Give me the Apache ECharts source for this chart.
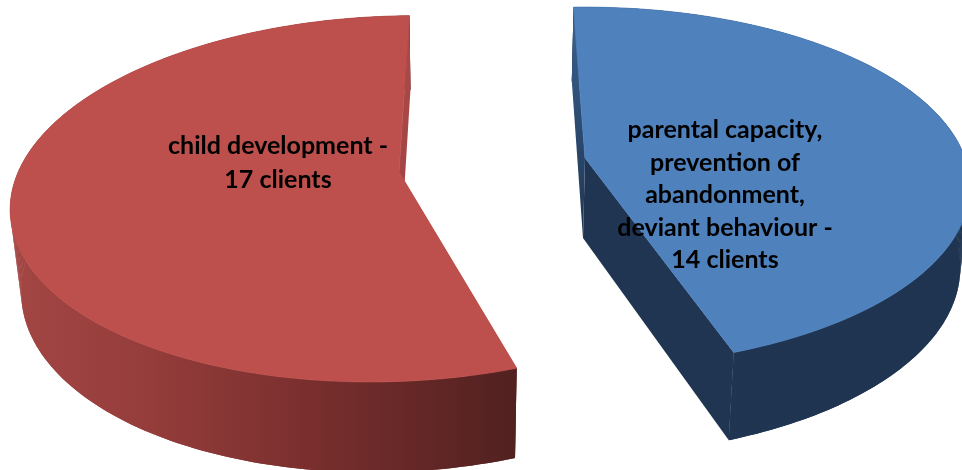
<!DOCTYPE html>
<html>
<head>
<meta charset="utf-8">
<style>html,body{margin:0;padding:0;background:#fff}#c{width:962px;height:470px}</style>
<script src="https://cdn.jsdelivr.net/npm/echarts@6/dist/echarts.min.js"></script>
</head>
<body>
<div id="c"></div>
<script>
var categories = ['child development', 'parental capacity, prevention of abandonment, deviant behaviour'];
var clients = [17, 14];
var labels = ['child development -\n17 clients', 'parental capacity,\nprevention of\nabandonment,\ndeviant behaviour -\n14 clients'];

var looks = [
  { cx: 399, cy: 172, a: 378, q: 0.015, b: 179, p: 0.146, shear: -0.03, yShear: -0.02, start: 1.0, dir: -1,
    wx: 450, ox: 0, sx: -0.025, d0: 81, d1: 0.045,
    top: '#bd504d', cut: ['#aa4a48', '#a04342'],
    wall: [[0, '#a34644'], [0.28, '#943d3b'], [0.58, '#7a2f2e'], [1, '#512120']],
    tx: 278, ty: 163, lh: 34 },
  { cx: 585, cy: 158, a: 380, q: 0, b: 175, p: 0.16, shear: 0, yShear: 0, start: -2, dir: 1,
    wx: 585, ox: -2, sx: -0.02, d0: 80, d1: 0.04,
    top: '#4f81bd', cut: ['#3a6291', '#1f3552'],
    wall: [[0, '#1f3552'], [1, '#1f3450']],
    tx: 725, ty: 195, lh: 32.5 }
];

var total = clients.reduce(function (s, v) { return s + v; }, 0);

function project(L, deg) {
  var t = deg * Math.PI / 180, u = Math.sin(t), v = -Math.cos(t), w = 1 - L.p * v + L.q * u;
  var dx = L.a * u / w, dy = L.b * v / w;
  return [L.cx + dx + L.shear * dy, L.cy + dy + L.yShear * dx];
}
function drop(L, P) {
  return [P[0] + L.ox + L.sx * (P[0] - L.wx), P[1] + L.d0 + L.d1 * (P[1] - L.cy)];
}

function renderItem(params, api) {
  var i = params.dataIndex, L = looks[i], value = api.value(0);
  var sweep = value / total * 360, arc = [], n = 160;
  for (var k = 0; k <= n; k++) arc.push(project(L, L.start + L.dir * sweep * k / n));
  var apex = [L.cx, L.cy], A = drop(L, apex);
  var first = arc[0], last = arc[n];
  var under = arc.map(function (P) { return drop(L, P); });
  var stops = function (list) {
    return list.map(function (s) { return { offset: s[0], color: s[1] }; });
  };
  var minX = Math.min.apply(null, arc.map(function (P) { return P[0]; }));
  var maxX = Math.max.apply(null, arc.map(function (P) { return P[0]; }));
  var wallFill = { type: 'linear', x: minX, y: 0, x2: maxX, y2: 0, global: true, colorStops: stops(L.wall) };
  var children = [
    { type: 'polygon', shape: { points: [apex, last, drop(L, last), A] }, style: { fill: L.cut[1] } }
  ];
  // the quads fill the silhouette between the two rims; the single band on top keeps the wall smooth
  for (var q = 0; q < n; q++) {
    children.push({ type: 'polygon',
      shape: { points: [arc[q], arc[q + 1], under[q + 1], under[q]] },
      style: { fill: wallFill } });
  }
  children.push(
    { type: 'polygon', shape: { points: arc.concat(under.slice().reverse()) }, style: { fill: wallFill } },
    { type: 'polygon', shape: { points: [first, drop(L, first), A, apex] },
      style: { fill: { type: 'linear', x: 0, y: 0, x2: 0, y2: 1, colorStops: stops([[0, L.cut[0]], [1, L.cut[1]]]) } } },
    { type: 'polygon', shape: { points: [apex].concat(arc) }, style: { fill: L.top, stroke: L.top, lineWidth: 0.8 } },
    { type: 'text', x: L.tx, y: L.ty,
      style: { text: labels[i], fill: '#000', align: 'center', verticalAlign: 'middle',
        font: 'bold 25px Lato', lineHeight: L.lh } }
  );
  return { type: 'group', children: children };
}

var chart = echarts.init(document.getElementById('c'), null, { renderer: 'canvas' });
chart.setOption({
  animation: false,
  backgroundColor: '#fff',
  series: [{
    type: 'custom',
    coordinateSystem: 'none',
    renderItem: renderItem,
    data: clients.map(function (v, i) { return { name: categories[i], value: [v] }; }),
    silent: true
  }]
});
</script>
</body>
</html>
